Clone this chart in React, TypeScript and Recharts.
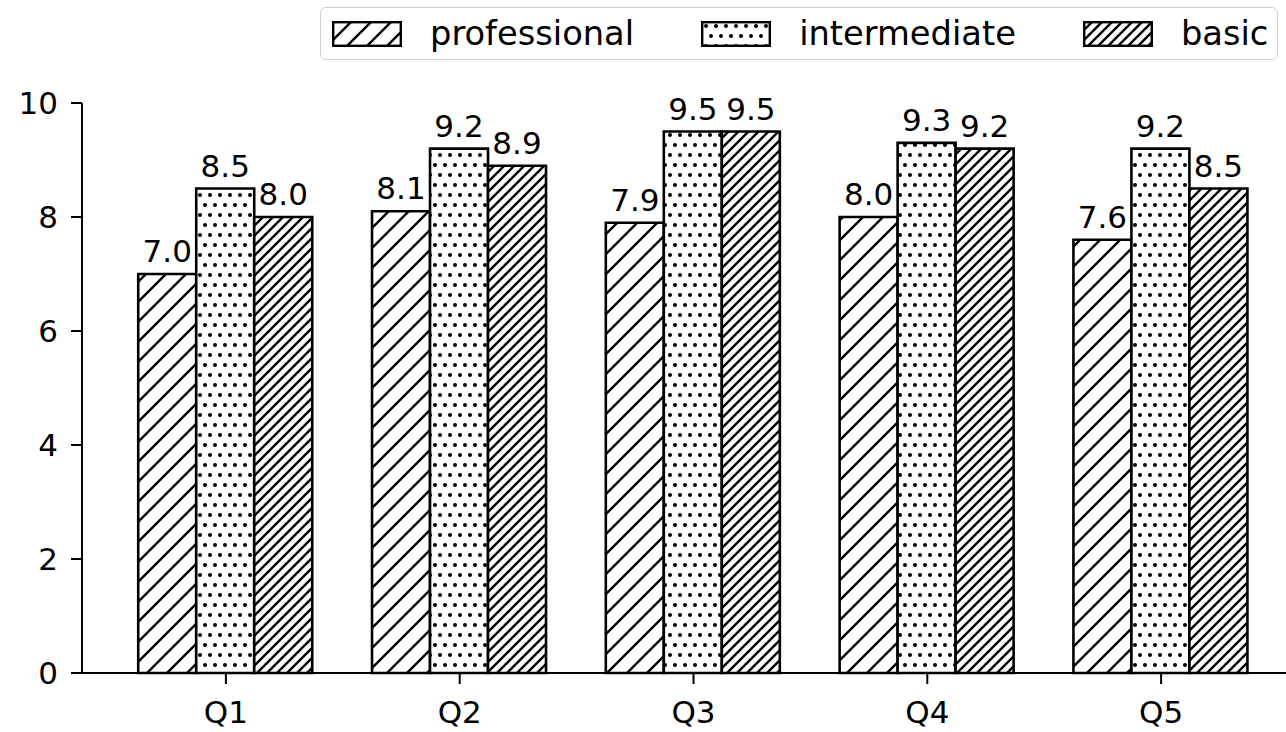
import React from 'react';
import { BarChart, Bar, XAxis, YAxis, LabelList } from 'recharts';

const quarters = ['Q1', 'Q2', 'Q3', 'Q4', 'Q5'];
const professional = [7.0, 8.1, 7.9, 8.0, 7.6];
const intermediate = [8.5, 9.2, 9.5, 9.3, 9.2];
const basic = [8.0, 8.9, 9.5, 9.2, 8.5];
const yTicks = [0, 2, 4, 6, 8, 10];

const seriesNames = ['professional', 'intermediate', 'basic'];

const chartData = quarters.map((q, i) => ({
  quarter: q,
  professional: professional[i],
  intermediate: intermediate[i],
  basic: basic[i],
}));

const FONT = '"DejaVu Sans", sans-serif';

// hatch patterns, roughly matching matplotlib's '//', '.' and '////'
const Patterns = ({ prefix }: { prefix: string }) => (
  <defs>
    <pattern id={`${prefix}-prof`} patternUnits="userSpaceOnUse" width={20} height={20}>
      <rect width={20} height={20} fill="#fff" />
      <path d="M0,20 L20,0 M-5,5 L5,-5 M15,25 L25,15" stroke="#000" strokeWidth={2.4} />
    </pattern>
    <pattern id={`${prefix}-inter`} patternUnits="userSpaceOnUse" width={10} height={20}>
      <rect width={10} height={20} fill="#fff" />
      <circle cx={5} cy={5} r={2} fill="#000" />
      <circle cx={0} cy={15} r={2} fill="#000" />
      <circle cx={10} cy={15} r={2} fill="#000" />
    </pattern>
    <pattern id={`${prefix}-basic`} patternUnits="userSpaceOnUse" width={10} height={10}>
      <rect width={10} height={10} fill="#fff" />
      <path d="M0,10 L10,0 M-2.5,2.5 L2.5,-2.5 M7.5,12.5 L12.5,7.5" stroke="#000" strokeWidth={2.4} />
    </pattern>
  </defs>
);

const fills = ['prof', 'inter', 'basic'];

const HatchLegend = () => (
  <div
    style={{
      position: 'absolute',
      left: 320,
      top: 7,
      width: 958,
      height: 53,
      border: '1.5px solid #d0d0d0',
      borderRadius: 6,
      background: 'rgba(255,255,255,0.8)',
      display: 'flex',
      alignItems: 'center',
      fontFamily: FONT,
      fontSize: 33.7,
      color: '#000',
      boxSizing: 'border-box',
    }}
  >
    {seriesNames.map((name, i) => (
      <div
        key={name}
        style={{ display: 'flex', alignItems: 'center', marginLeft: i === 0 ? 11 : 67 }}
      >
        <svg width={70} height={26} style={{ display: 'block' }}>
          <Patterns prefix={`lg${i}`} />
          <rect
            x={1.2}
            y={1.2}
            width={67.6}
            height={23.6}
            fill={`url(#lg${i}-${fills[i]})`}
            stroke="#000"
            strokeWidth={2.4}
          />
        </svg>
        <span style={{ marginLeft: 28, lineHeight: '40px' }}>{name}</span>
      </div>
    ))}
  </div>
);

export default function App() {
  return (
    <div
      style={{
        position: 'absolute',
        left: 0,
        top: 0,
        width: 1286,
        height: 732,
        overflow: 'hidden',
        background: '#fff',
        fontFamily: FONT,
      }}
    >
      <BarChart
        width={1304}
        height={732}
        data={chartData}
        margin={{ top: 103, right: 0, bottom: 0, left: 0 }}
        barCategoryGap="12.5%"
        barGap={0}
      >
        <Patterns prefix="bar" />
        <XAxis
          dataKey="quarter"
          height={59}
          padding={{ left: 27, right: 26 }}
          axisLine={{ stroke: '#000', strokeWidth: 2 }}
          tickLine={{ stroke: '#000', strokeWidth: 2 }}
          tickSize={11}
          tickMargin={17}
          tick={{ fontSize: 31, fill: '#000' }}
        />
        <YAxis
          width={82}
          domain={[0, 10]}
          ticks={yTicks}
          axisLine={{ stroke: '#000', strokeWidth: 2 }}
          tickLine={{ stroke: '#000', strokeWidth: 2 }}
          tickSize={11}
          tickMargin={13}
          tick={{ fontSize: 31, fill: '#000' }}
        />
        {seriesNames.map((name, i) => (
          <Bar
            key={name}
            dataKey={name}
            fill={`url(#bar-${fills[i]})`}
            stroke="#000"
            strokeWidth={2.6}
            isAnimationActive={false}
          >
            <LabelList
              dataKey={name}
              position="top"
              offset={12}
              formatter={(v: any) => Number(v).toFixed(1)}
              style={{ fontSize: 31, fill: '#000' }}
            />
          </Bar>
        ))}
      </BarChart>
      <HatchLegend />
    </div>
  );
}
